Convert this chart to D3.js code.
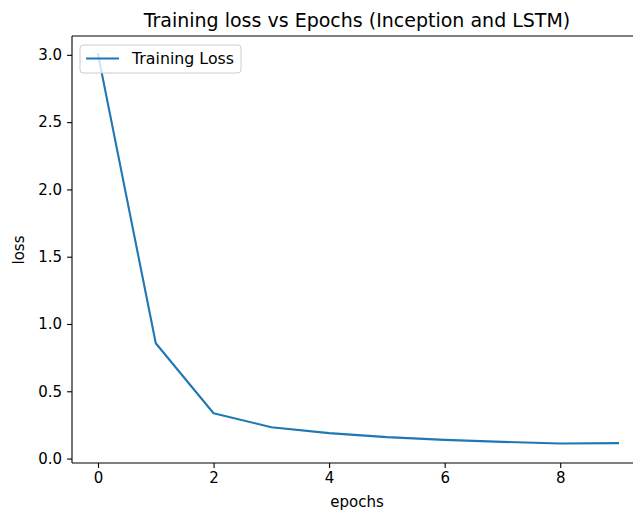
<!DOCTYPE html>
<html>
<head>
<meta charset="utf-8">
<script src="https://d3js.org/d3.v7.min.js"></script>
<style>
  body { margin: 0; background: #fff; }
  text { font-family: "DejaVu Sans", sans-serif; fill: #000; }
</style>
</head>
<body>
<script>
// data
var epochs = [0, 1, 2, 3, 4, 5, 6, 7, 8, 9];
var loss = [3.005, 0.857, 0.337, 0.233, 0.189, 0.159, 0.139, 0.124, 0.112, 0.115];
var xTicks = [0, 2, 4, 6, 8];
var yTicks = [0.0, 0.5, 1.0, 1.5, 2.0, 2.5, 3.0];

var W = 633, H = 516;
var mLeft = 72, mRight = 644, mTop = 36, mBottom = 463;
var fs = "15px";

var svg = d3.select("body").append("svg")
  .attr("width", W)
  .attr("height", H);

var x = d3.scaleLinear()
  .domain([-0.45, 9.45])
  .range([mLeft, mRight]);

var y = d3.scaleLinear()
  .domain([-0.033, 3.14])
  .range([mBottom, mTop]);

// axes
var xAxis = svg.append("g")
  .attr("transform", "translate(0," + mBottom + ")")
  .call(d3.axisBottom(x).tickValues(xTicks).tickFormat(d3.format("d")).tickSize(4.9).tickPadding(4.5));

var yAxis = svg.append("g")
  .attr("transform", "translate(" + mLeft + ",0)")
  .call(d3.axisLeft(y).tickValues(yTicks).tickFormat(d3.format(".1f")).tickSize(4.9).tickPadding(5));

[xAxis, yAxis].forEach(function(g) {
  g.select(".domain").remove();
  g.selectAll(".tick line").attr("stroke", "#000").attr("stroke-width", 1.1);
  g.selectAll(".tick text").attr("font-size", fs).attr("fill", "#000");
});

// spines (right one falls outside the cropped picture)
svg.append("line").attr("x1", mLeft).attr("x2", mLeft).attr("y1", mTop).attr("y2", mBottom)
  .attr("stroke", "#000").attr("stroke-width", 1.1);
svg.append("line").attr("x1", mLeft).attr("x2", mRight).attr("y1", mTop).attr("y2", mTop)
  .attr("stroke", "#000").attr("stroke-width", 1.1);
svg.append("line").attr("x1", mLeft).attr("x2", mRight).attr("y1", mBottom).attr("y2", mBottom)
  .attr("stroke", "#000").attr("stroke-width", 1.1);

// the line
var line = d3.line()
  .x(function(d, i) { return x(epochs[i]); })
  .y(function(d) { return y(d); });

svg.append("path")
  .datum(loss)
  .attr("d", line)
  .attr("fill", "none")
  .attr("stroke", "#1f77b4")
  .attr("stroke-width", 2.1)
  .attr("stroke-linejoin", "round")
  .attr("stroke-linecap", "square");

// legend
var leg = svg.append("g");
leg.append("rect")
  .attr("x", 80).attr("y", 45).attr("width", 161).attr("height", 28)
  .attr("rx", 3)
  .attr("fill", "#fff").attr("fill-opacity", 0.8)
  .attr("stroke", "#ccc").attr("stroke-width", 1);
leg.append("line")
  .attr("x1", 86).attr("x2", 119).attr("y1", 58.5).attr("y2", 58.5)
  .attr("stroke", "#1f77b4").attr("stroke-width", 2.1);
leg.append("text")
  .attr("x", 132).attr("y", 64)
  .attr("font-size", "15.8px")
  .text("Training Loss");

// title and axis labels
svg.append("text")
  .attr("x", 357).attr("y", 26.5)
  .attr("text-anchor", "middle")
  .attr("font-size", "19px")
  .text("Training loss vs Epochs (Inception and LSTM)");

svg.append("text")
  .attr("x", 357).attr("y", 507)
  .attr("text-anchor", "middle")
  .attr("font-size", fs)
  .text("epochs");

svg.append("text")
  .attr("transform", "translate(24,250) rotate(-90)")
  .attr("text-anchor", "middle")
  .attr("font-size", fs)
  .text("loss");
</script>
</body>
</html>
